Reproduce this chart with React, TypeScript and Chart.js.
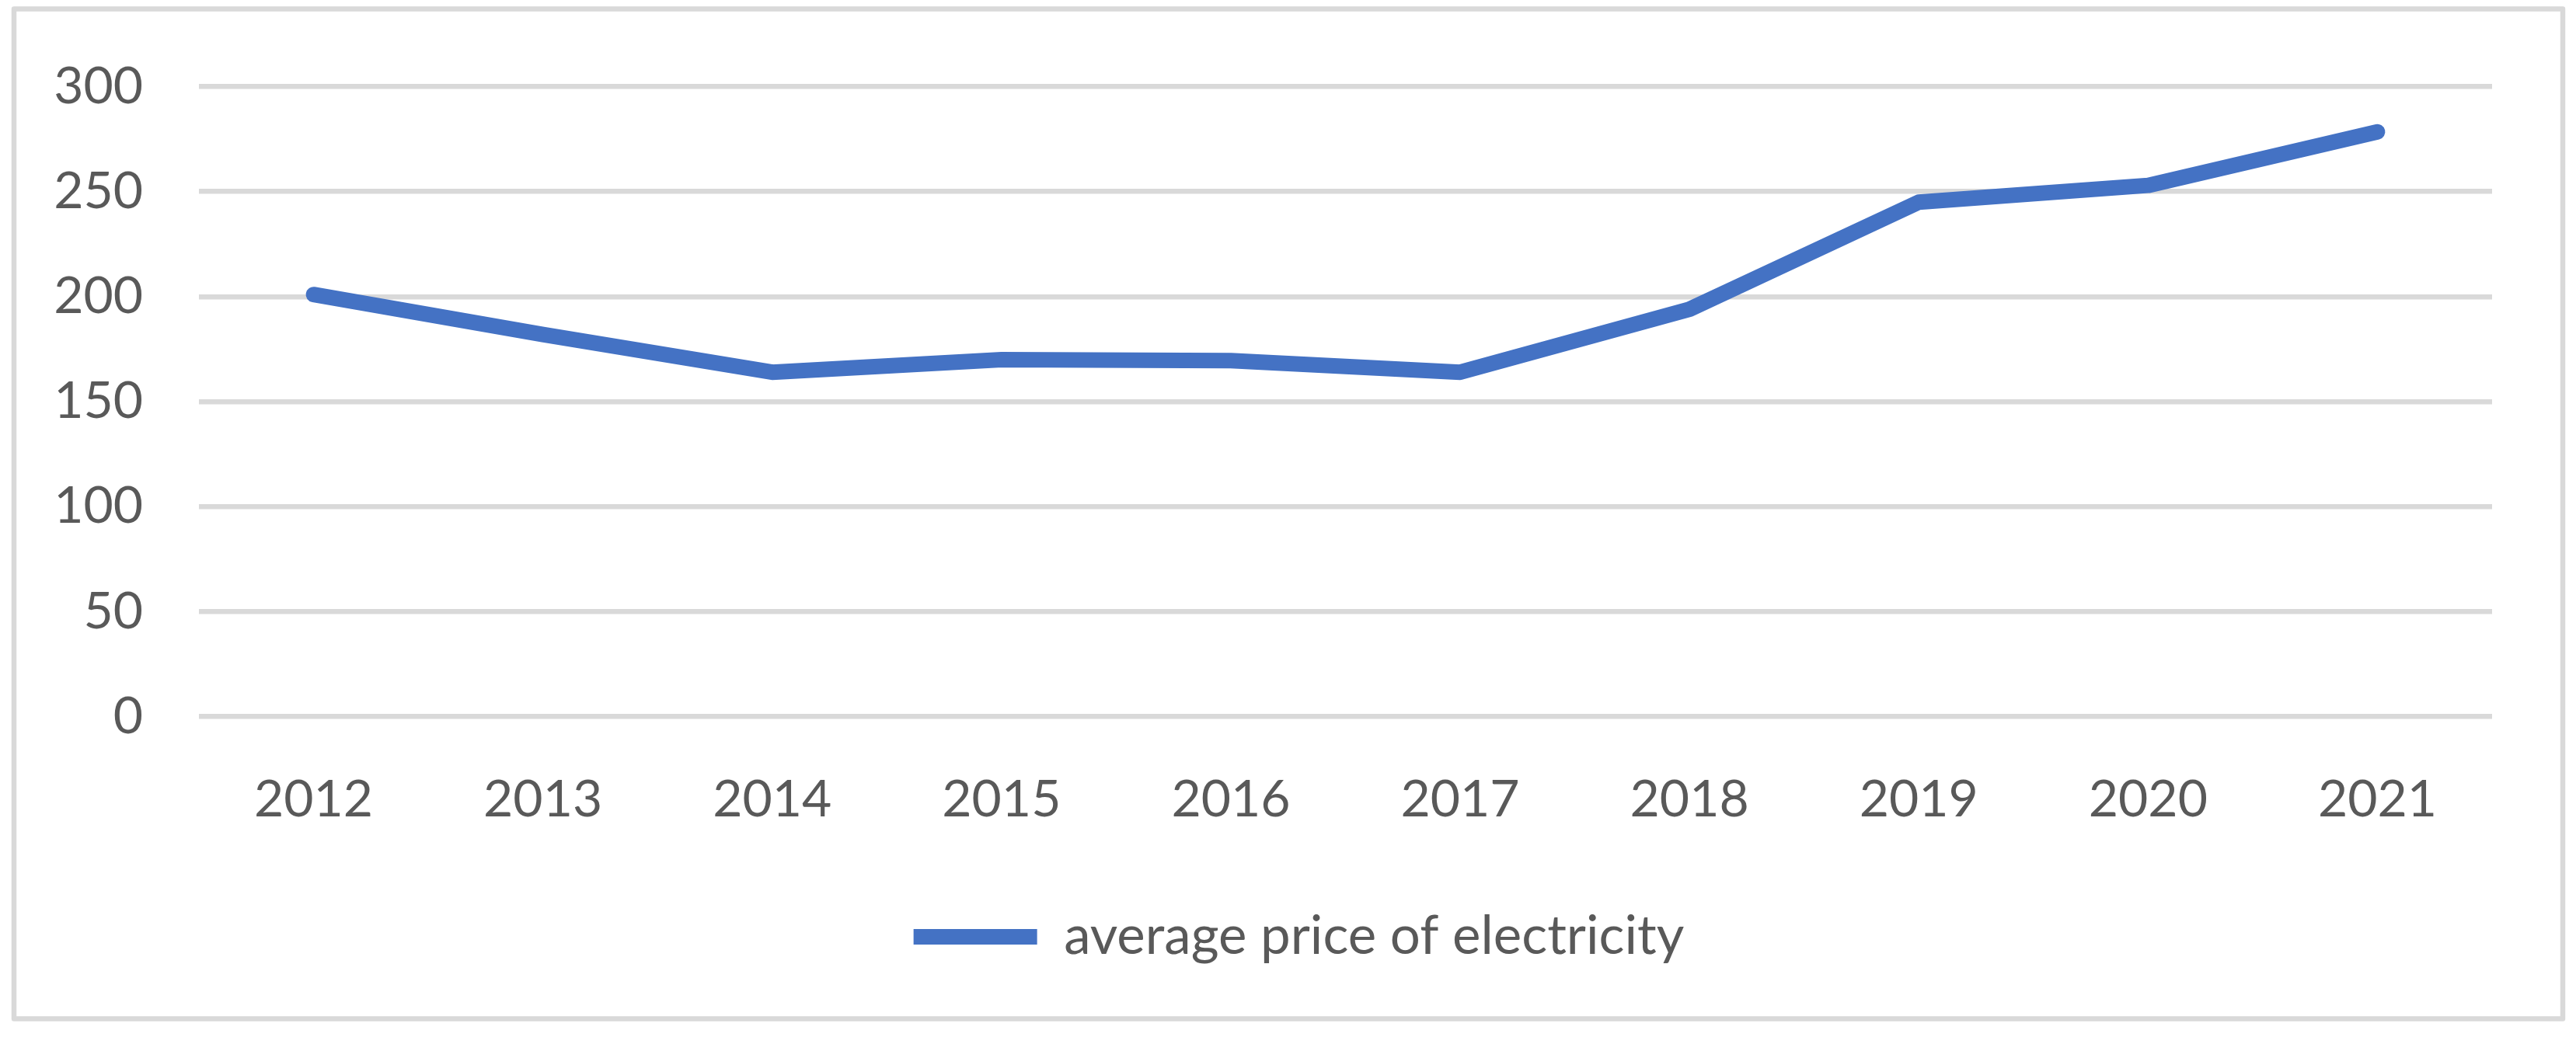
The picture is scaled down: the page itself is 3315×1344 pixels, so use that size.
import React, { useEffect, useRef } from "react";
import { Chart, registerables } from "chart.js";

Chart.register(...registerables);

const years = ["2012", "2013", "2014", "2015", "2016", "2017", "2018", "2019", "2020", "2021"];
const prices = [201, 182, 164, 170, 169.5, 164, 194, 245, 253, 278.5];
const seriesLabel = "average price of electricity";
const yMin = 0;
const yMax = 300;
const yStep = 50;

const TEXT = "#595959";
const GRID = "#d9d9d9";
const BLUE = "#4472C4";
const TICK_FONT = { family: "Lato", size: 66 };
const LEGEND_FONT = { family: "Lato", size: 69 };

export default function App() {
  const ref = useRef<HTMLCanvasElement>(null);

  useEffect(() => {
    document.body.style.margin = "0";
    const frame = {
      id: "frame",
      beforeDraw(chart: any) {
        const ctx = chart.ctx;
        ctx.save();
        ctx.strokeStyle = GRID;
        ctx.lineWidth = 6.5;
        ctx.lineJoin = "round";
        ctx.strokeRect(18, 11.5, 3280, 1300);
        ctx.restore();
      },
    };
    const legendShift = {
      id: "legendShift",
      afterLayout(chart: any) {
        if (chart.legend) {
          chart.legend.left += 54;
          chart.legend.right += 54;
        }
      },
    };
    const chart = new Chart(ref.current as HTMLCanvasElement, {
      type: "line",
      data: {
        labels: years,
        datasets: [
          {
            label: seriesLabel,
            data: prices,
            borderColor: BLUE,
            backgroundColor: BLUE,
            borderWidth: 20,
            borderCapStyle: "round",
            borderJoinStyle: "round",
            pointRadius: 0,
            pointHoverRadius: 0,
            tension: 0,
            fill: false,
          },
        ],
      },
      options: {
        responsive: false,
        animation: false,
        devicePixelRatio: 1,
        layout: { padding: { left: 28, right: 108, top: 104, bottom: 93.5 } },
        scales: {
          x: {
            offset: true,
            grid: { display: false },
            border: { display: false },
            ticks: { color: TEXT, font: TICK_FONT, padding: 60, maxRotation: 0, autoSkip: false },
            afterFit: (s: any) => {
              s.height = 239;
            },
          },
          y: {
            min: yMin,
            max: yMax,
            ticks: { stepSize: yStep, color: TEXT, font: TICK_FONT, padding: 72 },
            grid: { color: GRID, lineWidth: 6.5, drawTicks: false },
            border: { display: false },
            afterFit: (s: any) => {
              s.width = 228;
            },
          },
        },
        plugins: {
          legend: {
            position: "bottom",
            labels: {
              usePointStyle: true,
              pointStyle: "line",
              pointStyleWidth: 159,
              color: TEXT,
              font: LEGEND_FONT,
              padding: 10,
            },
          },
          tooltip: { enabled: false },
        },
      },
      plugins: [frame, legendShift],
    } as any);
    return () => chart.destroy();
  }, []);

  return (
    <div style={{ position: "absolute", left: 0, top: 0, width: 3315, height: 1344, background: "#fff" }}>
      <canvas ref={ref} width={3315} height={1344} style={{ display: "block", width: 3315, height: 1344 }} />
    </div>
  );
}
